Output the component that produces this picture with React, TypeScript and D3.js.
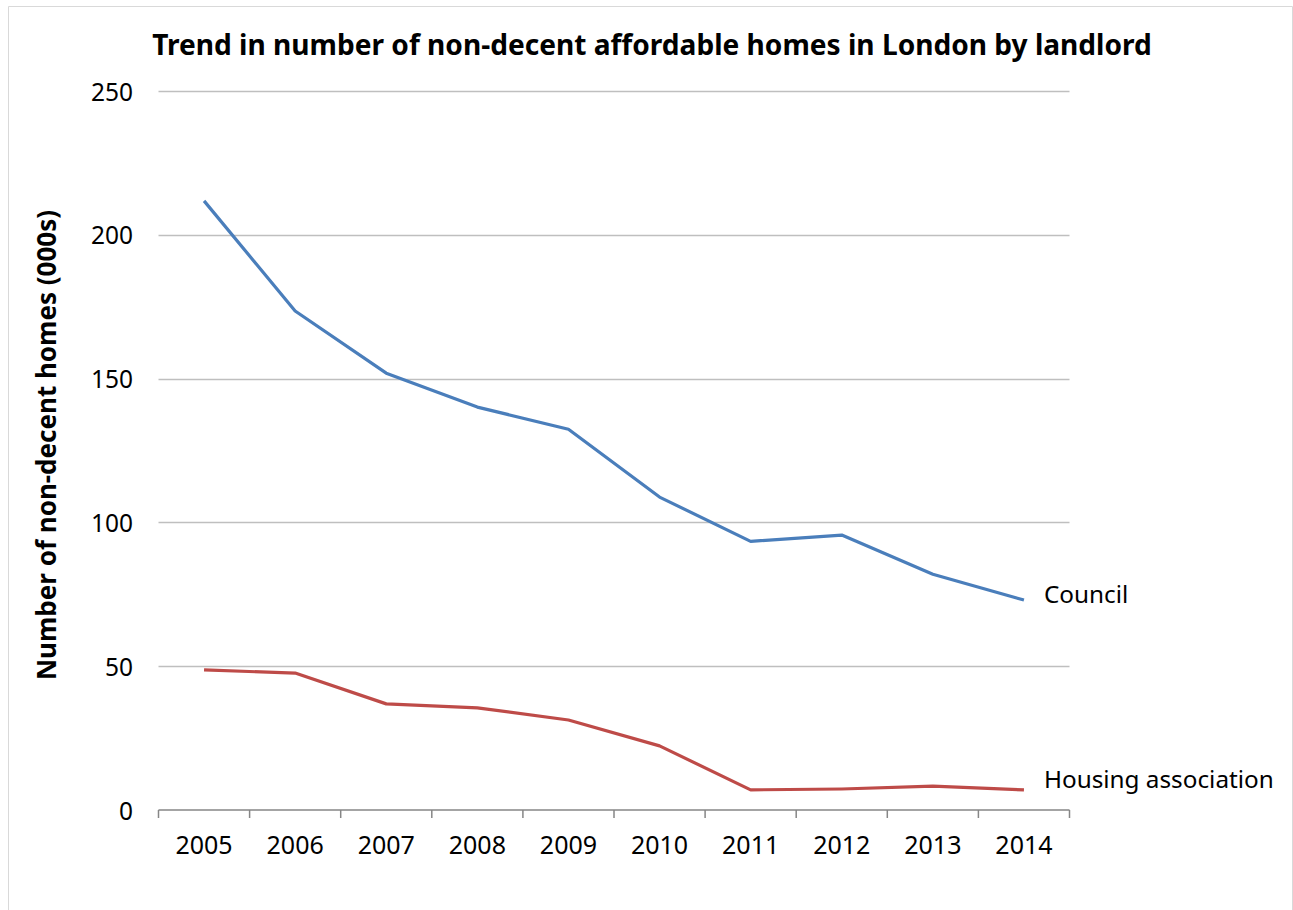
import React from "react";
import * as d3 from "d3";

const years = ["2005", "2006", "2007", "2008", "2009", "2010", "2011", "2012", "2013", "2014"];
const council = [211.8, 173.5, 151.9, 140.1, 132.4, 108.8, 93.4, 95.6, 82.0, 73.0];
const housingAssociation = [48.7, 47.6, 36.9, 35.5, 31.3, 22.3, 7.0, 7.3, 8.3, 7.0];
const yTicks = [0, 50, 100, 150, 200, 250];
const seriesNames = ["Council", "Housing association"];

const W = 1293;
const H = 910;
const left = 158.5;
const right = 1069.5;
const top = 91;
const bottom = 810;
const FONT = "'Noto Sans', 'Open Sans', sans-serif";

export default function App() {
  const x = d3.scaleBand<string>().domain(years).range([left, right]);
  const y = d3.scaleLinear().domain([0, 250]).range([bottom, top]);
  const line = d3
    .line<number>()
    .x((_, i) => (x(years[i]) as number) + x.bandwidth() / 2)
    .y((d) => y(d));
  const series = [
    { name: seriesNames[0], values: council, color: "#4a7ebb", dy: 3 },
    { name: seriesNames[1], values: housingAssociation, color: "#be4b48", dy: -2 },
  ];
  const lastX = (x(years[years.length - 1]) as number) + x.bandwidth() / 2;
  return (
    <svg
      width={W}
      height={H}
      style={{ position: "absolute", left: 0, top: 0, fontFamily: FONT }}
    >
      <rect x={0} y={0} width={W} height={H} fill="#fff" />
      <path d={`M8.5,${H} V6.5 H1292.5 V${H}`} fill="none" stroke="#d9d9d9" strokeWidth={1} />
      <text x={652} y={55} textAnchor="middle" fontSize={28.1} fontWeight="bold" fill="#000">
        Trend in number of non-decent affordable homes in London by landlord
      </text>
      {yTicks.map((t) => (
        <g key={t}>
          {t > 0 && (
            <line x1={left} x2={right} y1={Math.round(y(t)) + 0.5} y2={Math.round(y(t)) + 0.5} stroke="#bfbfbf" strokeWidth={1.3} />
          )}
          <text x={133} y={y(t) + 9.5} textAnchor="end" fontSize={24.5} fill="#000">
            {t}
          </text>
        </g>
      ))}
      <line x1={left} x2={right} y1={bottom} y2={bottom} stroke="#868686" strokeWidth={1.5} />
      {[...years, "end"].map((yr, i) => {
        const xx = left + i * x.bandwidth();
        return <line key={yr} x1={xx} x2={xx} y1={bottom} y2={bottom + 8} stroke="#868686" strokeWidth={1.5} />;
      })}
      {years.map((yr) => (
        <text key={yr} x={(x(yr) as number) + x.bandwidth() / 2} y={854} textAnchor="middle" fontSize={25} fill="#000">
          {yr}
        </text>
      ))}
      <text
        transform={`translate(56,445) rotate(-90)`}
        textAnchor="middle"
        fontSize={26}
        fontWeight="bold"
        fill="#000"
      >
        Number of non-decent homes (000s)
      </text>
      {series.map((s) => (
        <g key={s.name}>
          <path d={line(s.values) as string} fill="none" stroke={s.color} strokeWidth={3.2} strokeLinejoin="round" />
          <text x={lastX + 20} y={y(s.values[s.values.length - 1]) + s.dy} fontSize={24.3} fill="#000">
            {s.name}
          </text>
        </g>
      ))}
    </svg>
  );
}
